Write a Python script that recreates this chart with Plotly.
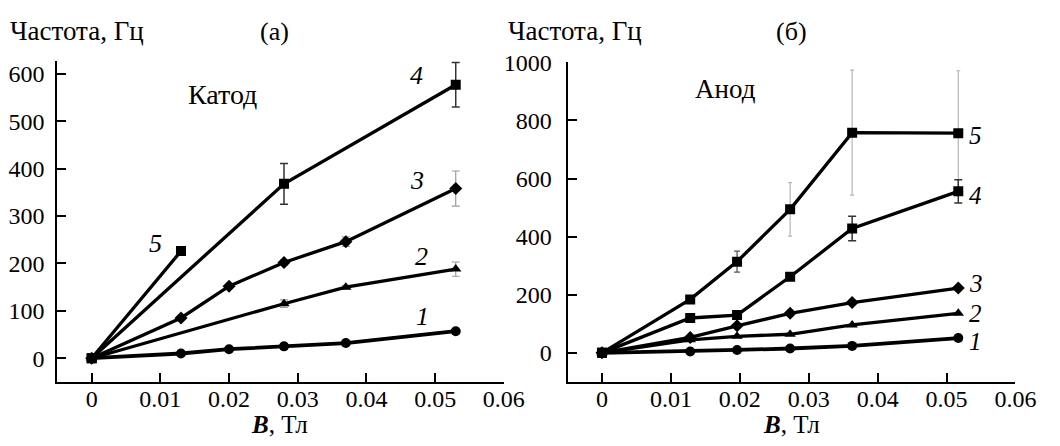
import plotly.graph_objects as go

# ---------------- data ----------------
# Panel (а) – Катод
xa1 = [0, 0.013, 0.02, 0.028, 0.037, 0.053]
ya1 = [0, 10, 19, 25, 32, 57]
xa2 = [0, 0.028, 0.037, 0.053]
ya2 = [0, 115, 150, 188]
ea2 = [0, 8, 4, 15]
xa3 = [0, 0.013, 0.02, 0.028, 0.037, 0.053]
ya3 = [0, 85, 152, 202, 246, 358]
ea3 = [0, 0, 0, 5, 10, 37]
xa4 = [0, 0.028, 0.053]
ya4 = [0, 368, 577]
ea4 = [0, 43, 47]
xa5 = [0, 0.013]
ya5 = [0, 226]
ea5 = [0, 8]

# Panel (б) – Анод
xb = [0, 0.0128, 0.0196, 0.0273, 0.0363, 0.0517]
yb1 = [0, 5, 10, 15, 24, 51]
yb2 = [0, 45, 57, 64, 96, 136]
yb3 = [0, 53, 93, 136, 173, 223]
yb4 = [0, 120, 130, 262, 428, 556]
eb4 = [0, 0, 0, 0, 42, 40]
yb5 = [0, 184, 314, 494, 758, 756]
eb5_dark = [0, 0, 36, 0, 0, 0]
eb5_light = [0, 0, 0, 92, 215, 215]

xticks = [0, 0.01, 0.02, 0.03, 0.04, 0.05, 0.06]
xticklabels = ["0", "0.01", "0.02", "0.03", "0.04", "0.05", "0.06"]
yticks_a = [0, 100, 200, 300, 400, 500, 600]
yticks_b = [0, 200, 400, 600, 800, 1000]

W, H = 1060, 446
FONT = "Liberation Serif"

fig = go.Figure()


def err_trace(x, y, e, color, xa, ya, thick=1.2, width=4):
    fig.add_trace(go.Scatter(
        x=x, y=y, mode="markers",
        marker=dict(size=1, color="rgba(0,0,0,0)"),
        error_y=dict(type="data", array=e, visible=True, color=color,
                     thickness=thick, width=width),
        xaxis=xa, yaxis=ya, showlegend=False, hoverinfo="skip"))


def line_trace(x, y, symbol, xa, ya, lw=3.3, ms=10):
    fig.add_trace(go.Scatter(
        x=x, y=y, mode="lines+markers",
        line=dict(color="black", width=lw),
        marker=dict(symbol=symbol, size=ms, color="black"),
        xaxis=xa, yaxis=ya, showlegend=False))


# panel a
err_trace(xa2, ya2, ea2, "#9a9a9a", "x", "y")
err_trace(xa3, ya3, ea3, "#9a9a9a", "x", "y")
err_trace(xa4, ya4, ea4, "#333333", "x", "y", thick=1.5, width=4)
err_trace(xa5, ya5, ea5, "#9a9a9a", "x", "y")
line_trace(xa1, ya1, "circle", "x", "y", lw=3.8)
line_trace(xa2, ya2, "triangle-up", "x", "y")
line_trace(xa3, ya3, "diamond", "x", "y")
line_trace(xa4, ya4, "square", "x", "y")
line_trace(xa5, ya5, "square", "x", "y")

# panel b
err_trace(xb, yb5, eb5_light, "#b5b5b5", "x2", "y2", thick=1.2, width=2)
err_trace(xb, yb5, eb5_dark, "#555555", "x2", "y2", thick=1.3, width=3)
err_trace(xb, yb4, eb4, "#333333", "x2", "y2", thick=1.5, width=4)
line_trace(xb, yb1, "circle", "x2", "y2", lw=3.8)
line_trace(xb, yb2, "triangle-up", "x2", "y2")
line_trace(xb, yb3, "diamond", "x2", "y2")
line_trace(xb, yb4, "square", "x2", "y2")
line_trace(xb, yb5, "square", "x2", "y2")

axis_common = dict(
    showline=True, linecolor="black", linewidth=2,
    ticks="inside", ticklen=9, tickwidth=2, tickcolor="black",
    showgrid=False, zeroline=False,
    tickfont=dict(family=FONT, size=24, color="black"),
)

fig.update_layout(
    width=W, height=H,
    margin=dict(l=0, r=0, t=0, b=0),
    plot_bgcolor="white", paper_bgcolor="white",
    font=dict(family=FONT, color="black"),
    xaxis=dict(domain=[58.5 / W, 514 / W], range=[-0.005, 0.06],
               tickvals=xticks, ticktext=xticklabels, anchor="y",
               ticklabelstandoff=-6, **axis_common),
    yaxis=dict(domain=[(H - 380) / H, (H - 49) / H], range=[-50, 628],
               tickvals=yticks_a, anchor="x", ticklabelstandoff=6, **axis_common),
    xaxis2=dict(domain=[579 / W, 1036 / W], range=[-0.005, 0.06],
                tickvals=xticks, ticktext=xticklabels, anchor="y2",
                ticklabelstandoff=-6, **axis_common),
    yaxis2=dict(domain=[(H - 380) / H, (H - 50.8) / H], range=[-100, 1000],
                tickvals=yticks_b, anchor="x2", ticklabelstandoff=9, **axis_common),
)

ann = []


def txt(text, x, y, xref, yref, size=24, italic=False, xanchor="center"):
    ann.append(dict(text=text, x=x, y=y, xref=xref, yref=yref, showarrow=False,
                    xanchor=xanchor, yanchor="middle", borderpad=0,
                    font=dict(family=FONT, size=size, color="black",
                              style="italic" if italic else "normal")))


# panel titles
txt("Частота, Гц", 9 / W, (H - 19) / H, "paper", "paper", size=27, xanchor="left")
txt("(а)", 280 / W, (H - 19) / H, "paper", "paper", size=26)
txt("Частота, Гц", 517 / W, (H - 19) / H, "paper", "paper", size=27, xanchor="left")
txt("(б)", 807 / W, (H - 19) / H, "paper", "paper", size=26)
txt("<b><i>B</i></b>, Тл", 285 / W, (H - 424) / H, "paper", "paper", size=25)
txt("<b><i>B</i></b>, Тл", 807 / W, (H - 424) / H, "paper", "paper", size=25)

# inner labels
txt("Катод", 0.019, 557, "x", "y", size=28)
txt("Анод", 0.0179, 909, "x2", "y2", size=27)

# curve numbers
for t, x, y in [("5", 0.0093, 242), ("4", 0.0473, 597), ("3", 0.0473, 375),
                ("2", 0.048, 215), ("1", 0.0482, 87)]:
    txt(t, x, y, "x", "y", size=26, italic=True)
for t, x, y in [("5", 0.0542, 748), ("4", 0.0542, 543), ("3", 0.0542, 238),
                ("2", 0.0542, 135), ("1", 0.0542, 40)]:
    txt(t, x, y, "x2", "y2", size=25, italic=True)

fig.update_layout(annotations=ann)
fig.write_html("out.html",
               config={"displayModeBar": False},
               post_script="document.body.style.margin='0px';"
                           "document.body.style.overflow='hidden';")
